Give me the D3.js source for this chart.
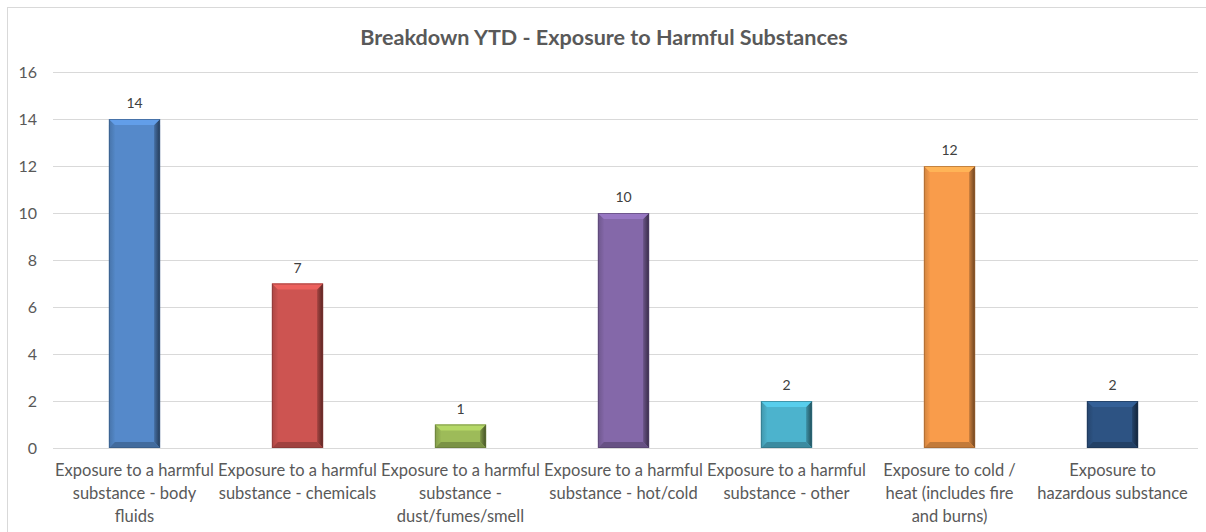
<!DOCTYPE html>
<html>
<head>
<meta charset="utf-8">
<script src="https://cdn.jsdelivr.net/npm/d3@7"></script>
<style>
  html, body { margin: 0; padding: 0; background: #fff; }
  svg { display: block; }
</style>
</head>
<body>
<svg id="chart" width="1206" height="532"></svg>
<script>
// Incident categories and year-to-date counts
const categories = [
  "Exposure to a harmful substance - body fluids",
  "Exposure to a harmful substance - chemicals",
  "Exposure to a harmful substance - dust/fumes/smell",
  "Exposure to a harmful substance - hot/cold",
  "Exposure to a harmful substance - other",
  "Exposure to cold / heat (includes fire and burns)",
  "Exposure to hazardous substance"
];
const categoryLines = [
  ["Exposure to a harmful", "substance - body", "fluids"],
  ["Exposure to a harmful", "substance - chemicals"],
  ["Exposure to a harmful", "substance -", "dust/fumes/smell"],
  ["Exposure to a harmful", "substance - hot/cold"],
  ["Exposure to a harmful", "substance - other"],
  ["Exposure to cold /", "heat (includes fire", "and burns)"],
  ["Exposure to", "hazardous substance"]
];
const counts = [14, 7, 1, 10, 2, 12, 2];
const barColors = ["#5589CA", "#CD5451", "#9DBB59", "#8468A9", "#4CB3CD", "#F99C4B", "#2D5383"];
const yTicks = [0, 2, 4, 6, 8, 10, 12, 14, 16];
const title = "Breakdown YTD - Exposure to Harmful Substances";

const svg = d3.select("#chart");
const font = "Lato, 'Open Sans', sans-serif";

// Chart frame
svg.append("rect")
  .attr("x", 7.5).attr("y", 7.5)
  .attr("width", 1210).attr("height", 540)
  .attr("fill", "#fff").attr("stroke", "#d9d9d9").attr("stroke-width", 1);

const plot = { left: 53, right: 1194, top: 72, bottom: 448 };

const x = d3.scaleBand()
  .domain(categories)
  .range([plot.left, plot.right])
  .paddingInner(0.686)
  .paddingOuter(0.343);

const y = d3.scaleLinear()
  .domain([0, 16])
  .range([plot.bottom, plot.top]);

// Gridlines
svg.append("g")
  .selectAll("line")
  .data(yTicks)
  .join("line")
  .attr("x1", plot.left).attr("x2", 1198)
  .attr("y1", d => Math.round(y(d)) + 0.5)
  .attr("y2", d => Math.round(y(d)) + 0.5)
  .attr("stroke", "#d9d9d9").attr("stroke-width", 1);

// Y axis labels
const yAxis = d3.axisLeft(y).tickValues(yTicks).tickSize(0).tickPadding(0);
const yg = svg.append("g")
  .attr("transform", `translate(37,0)`)
  .call(yAxis);
yg.select(".domain").remove();
yg.selectAll("text")
  .attr("fill", "#595959")
  .attr("font-family", font)
  .attr("font-size", 16);

// Title
svg.append("text")
  .attr("x", 604).attr("y", 45)
  .attr("text-anchor", "middle")
  .attr("font-family", font)
  .attr("font-weight", "bold")
  .attr("font-size", 21.6)
  .attr("fill", "#595959")
  .text(title);

// Bevelled bars
const defs = svg.append("defs");
const bevel = 6;

counts.forEach((v, i) => {
  const c = d3.color(barColors[i]);
  const x0 = x(categories[i]);
  const w = x.bandwidth();
  const y0 = y(v);
  const y1 = y(0);
  const h = y1 - y0;
  const g = svg.append("g");

  // right edge shading fades towards a dark rim
  const gid = "rg" + i;
  const rg = defs.append("linearGradient").attr("id", gid)
    .attr("x1", "0").attr("x2", "1").attr("y1", "0").attr("y2", "0");
  rg.append("stop").attr("offset", "0%").attr("stop-color", c.darker(0.6));
  rg.append("stop").attr("offset", "100%").attr("stop-color", c.darker(2.4));

  const lid = "lg" + i;
  const lg = defs.append("linearGradient").attr("id", lid)
    .attr("x1", "0").attr("x2", "1").attr("y1", "0").attr("y2", "0");
  lg.append("stop").attr("offset", "0%").attr("stop-color", c.darker(0.5));
  lg.append("stop").attr("offset", "100%").attr("stop-color", c.darker(0.05));

  const b = Math.min(bevel, h / 2);

  // face
  g.append("rect")
    .attr("x", x0).attr("y", y0).attr("width", w).attr("height", h)
    .attr("fill", c.toString());
  // left facet
  g.append("polygon")
    .attr("points", [[x0, y0], [x0 + b, y0 + b], [x0 + b, y1 - b], [x0, y1]].join(" "))
    .attr("fill", `url(#${lid})`);
  // right facet
  g.append("polygon")
    .attr("points", [[x0 + w, y0], [x0 + w - b, y0 + b], [x0 + w - b, y1 - b], [x0 + w, y1]].join(" "))
    .attr("fill", `url(#${gid})`);
  // top facet
  g.append("polygon")
    .attr("points", [[x0, y0], [x0 + w, y0], [x0 + w - b, y0 + b], [x0 + b, y0 + b]].join(" "))
    .attr("fill", c.brighter(0.4).toString());
  // bottom facet
  g.append("polygon")
    .attr("points", [[x0, y1], [x0 + w, y1], [x0 + w - b, y1 - b], [x0 + b, y1 - b]].join(" "))
    .attr("fill", c.darker(0.7).toString());
  // outline
  g.append("rect")
    .attr("x", x0 + 0.5).attr("y", y0 + 0.5).attr("width", w - 1).attr("height", h - 1)
    .attr("fill", "none").attr("stroke", c.darker(1.3).toString()).attr("stroke-opacity", 0.6);

  // value label
  svg.append("text")
    .attr("x", x0 + w / 2).attr("y", y0 - 11)
    .attr("text-anchor", "middle")
    .attr("font-family", font)
    .attr("font-size", 14)
    .attr("fill", "#404040")
    .text(v);
});

// Category labels
const xg = svg.append("g");
categories.forEach((cat, i) => {
  const cx = x(cat) + x.bandwidth() / 2;
  const t = xg.append("text")
    .attr("text-anchor", "middle")
    .attr("font-family", font)
    .attr("font-size", 16.5)
    .attr("fill", "#595959");
  categoryLines[i].forEach((ln, j) => {
    t.append("tspan").attr("x", cx).attr("y", 476 + j * 23).text(ln);
  });
});
</script>
</body>
</html>
